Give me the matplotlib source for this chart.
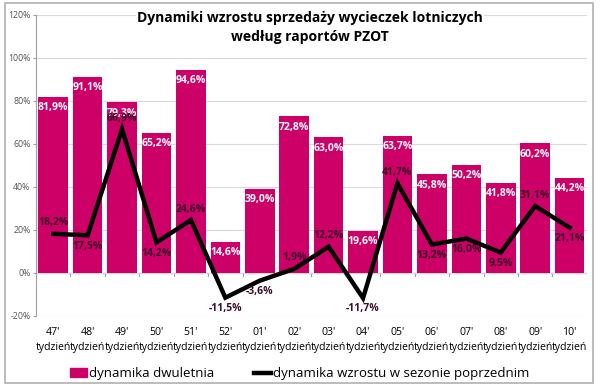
import matplotlib.pyplot as plt
import matplotlib.patches as mpatches
from matplotlib.lines import Line2D

# dane z wykresu
weeks = ["47'", "48'", "49'", "50'", "51'", "52'", "01'", "02'",
         "03'", "04'", "05'", "06'", "07'", "08'", "09'", "10'"]
dwuletnia = [81.9, 91.1, 79.3, 65.2, 94.6, 14.6, 39.0, 72.8,
             63.0, 19.6, 63.7, 45.8, 50.2, 41.8, 60.2, 44.2]
poprzedni = [18.2, 17.5, 66.9, 14.2, 24.6, -11.5, -3.6, 1.9,
             12.2, -11.7, 41.7, 13.2, 16.0, 9.5, 31.1, 21.1]
# etykieta linii nad (1) czy pod (-1) punktem
label_side = [1, -1, 1, -1, 1, -1, -1, 1, 1, -1, 1, -1, -1, -1, 1, -1]

bar_color = '#CC0066'
plt.rcParams['font.family'] = ['Open Sans', 'DejaVu Sans']

fig = plt.figure(figsize=(6, 3.92), dpi=100)
ax = fig.add_axes([0.06, 0.194, 0.918, 0.768])

x = list(range(len(weeks)))
ax.bar(x, dwuletnia, width=0.86, color=bar_color, zorder=2)
ax.plot(x, poprzedni, color='black', lw=3.2, zorder=3, solid_joinstyle='miter')

def fmt(v):
    return f"{v:.1f}%".replace('.', ',')

for i, v in enumerate(dwuletnia):
    ax.text(i, v - 2.5, fmt(v), ha='center', va='top', color='white',
            fontsize=7.5, fontweight='bold', zorder=4)

for i, v in enumerate(poprzedni):
    if label_side[i] > 0:
        ax.text(i, v + 2.5, fmt(v), ha='center', va='bottom', color='#3b1028',
                fontsize=7.5, fontweight='bold', zorder=4)
    else:
        ax.text(i, v - 2.5, fmt(v), ha='center', va='top', color='#3b1028',
                fontsize=7.5, fontweight='bold', zorder=4)

ax.set_xlim(-0.5, len(weeks) - 0.5)
ax.set_ylim(-20, 120)
ax.set_yticks(range(-20, 121, 20))
ax.set_yticklabels([f"{t}%" for t in range(-20, 121, 20)], fontsize=6.3, color='#555555')
ax.grid(axis='y', color='#d9d9d9', lw=0.8, zorder=0)
ax.axhline(0, color='#a0a0a0', lw=0.8, zorder=1)
for b in range(len(weeks) + 1):
    ax.plot([b - 0.5, b - 0.5], [0, -1.5], color='#a0a0a0', lw=0.8, zorder=1)

ax.set_xticks(x)
ax.set_xticklabels([f"{w}\ntydzień" for w in weeks], fontsize=7.6, linespacing=1.5)
ax.tick_params(axis='x', length=0, pad=8)
ax.tick_params(axis='y', length=2, color='#a0a0a0', pad=2)
for s in ['top', 'right', 'bottom']:
    ax.spines[s].set_visible(False)
ax.spines['left'].set_color('#a0a0a0')

fig.text(0.517, 0.972, "Dynamiki wzrostu sprzedaży wycieczek lotniczych\nwedług raportów PZOT",
         ha='center', va='top', fontsize=10, fontweight='bold', linespacing=1.45, zorder=5,
         bbox=dict(facecolor='white', edgecolor='none', pad=1))

handles = [mpatches.Patch(color=bar_color, label='dynamika dwuletnia'),
           Line2D([0], [0], color='black', lw=3.2, label='dynamika wzrostu w sezonie poprzednim')]
fig.legend(handles=handles, loc='center', bbox_to_anchor=(0.5, 0.046), ncol=2,
           frameon=False, fontsize=9.5, handlelength=1.3, handletextpad=0.15,
           columnspacing=3)

# ramka wykresu
fig.patches.append(mpatches.Rectangle((0.008, 0.022), 0.98, 0.971, transform=fig.transFigure,
                                      fill=False, edgecolor='#b0b0b0', lw=1.2))

fig.savefig('out.png', dpi=100)
